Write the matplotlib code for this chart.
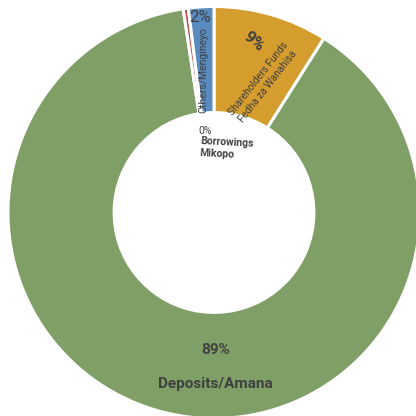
import numpy as np
import matplotlib.pyplot as plt

plt.rcParams['font.family'] = ['Roboto', 'DejaVu Sans']

# funding structure, clockwise from 12 o'clock
categories = ["Shareholders Funds\nFedha za Wanahisa", "Deposits/Amana",
              "Borrowings\nMikopo", "Others/Mengineyo"]
shares = [9, 89, 0.4, 2]
colors = ["#D59D2E", "#7F9F66", "#C0504D", "#5A8BBE"]
text_color = "#404040"

fig = plt.figure(figsize=(4.16, 4.16), dpi=100)
cx, cy, rad = 214 / 416, 1 - 212.5 / 416, 206 / 416
ax = fig.add_axes([cx - rad, cy - rad, 2 * rad, 2 * rad])

wedges, _ = ax.pie(shares, colors=colors, startangle=90, counterclock=False, radius=1,
                   wedgeprops=dict(width=0.515, edgecolor="white", linewidth=2.2))
ax.set_xlim(-1, 1)
ax.set_ylim(-1, 1)
ax.set_aspect("equal")
ax.axis("off")


def polar(r, ang):
    a = np.deg2rad(ang)
    return r * np.cos(a), r * np.sin(a)


def mid(w):
    return (w.theta1 + w.theta2) / 2


pct = [f"{v:.0f}%" for v in shares]

# Shareholders Funds
m = mid(wedges[0])
x, y = polar(0.85, m + 3)
ax.text(x, y, pct[0], fontsize=12, color=text_color, rotation=-40,
        ha="center", va="center", fontweight="bold")
x, y = polar(0.675, m - 4.5)
ax.text(x, y, categories[0], fontsize=7.3, color=text_color, rotation=52,
        ha="center", va="center", linespacing=1.25)

# Deposits
x, y = polar(0.667, -89.5)
ax.text(x, y, pct[1], fontsize=11, color=text_color, ha="center", va="center",
        fontweight="bold")
x, y = polar(0.833, -89.7)
ax.text(x, y, categories[1], fontsize=11, color=text_color, ha="center", va="center",
        fontweight="bold")

# Borrowings
ax.text(-0.075, 0.395, pct[2], fontsize=7.5, color=text_color, ha="left", va="center")
ax.text(-0.07, 0.31, categories[2], fontsize=7.5, color=text_color, ha="left", va="center",
        fontweight="bold", linespacing=1.25, rotation=-3)

# Others
x, y = polar(0.947, 94.1)
ax.text(x, y, pct[3], fontsize=12, color=text_color, ha="center", va="center")
x, y = polar(0.694, 94.4)
ax.text(x, y, categories[3], fontsize=7.5, color=text_color, rotation=90,
        ha="center", va="center")

plt.savefig("out.png", dpi=100)
